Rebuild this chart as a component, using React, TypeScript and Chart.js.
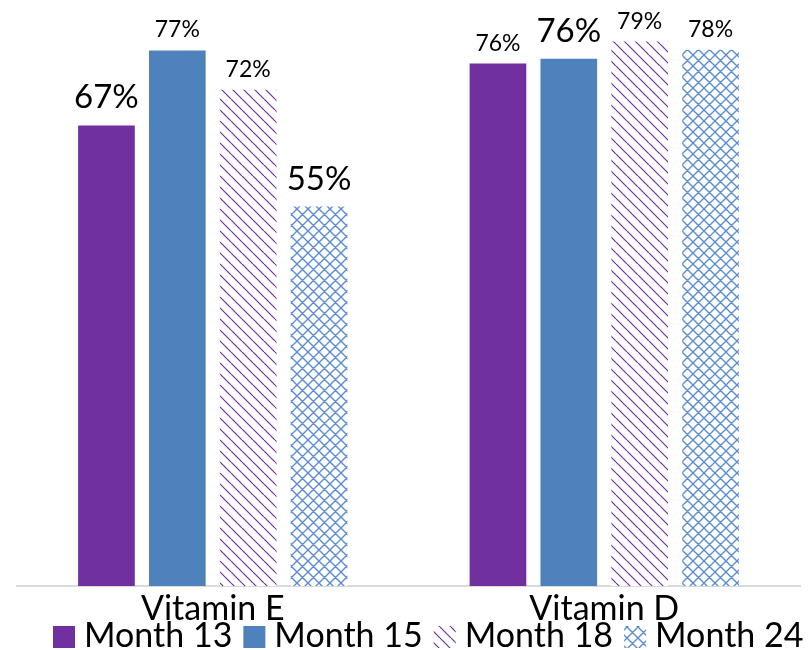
import React, { useEffect, useRef } from "react";
import { Chart, registerables } from "chart.js";

Chart.register(...registerables);

const categories = ["Vitamin E", "Vitamin D"];
const seriesNames = ["Month 13", "Month 15", "Month 18", "Month 24"];

const month13 = [67, 76];
const month15 = [77.9, 76.7];
const month18 = [72.2, 79.2];
const month24 = [55.2, 78];

const month13Labels = ["67%", "76%"];
const month15Labels = ["77%", "76%"];
const month18Labels = ["72%", "79%"];
const month24Labels = ["55%", "78%"];

const month13Large = [true, false];
const month15Large = [false, true];
const month18Large = [false, false];
const month24Large = [true, false];

const PURPLE = "#7030A0";
const BLUE = "#4F81BD";
const FONT = "Lato, 'Open Sans', sans-serif";

function makeHatch(ctx: CanvasRenderingContext2D, color: string, size: number, cross: boolean, lw: number) {
  const c = document.createElement("canvas");
  c.width = size;
  c.height = size;
  const g = c.getContext("2d")!;
  g.fillStyle = "#ffffff";
  g.fillRect(0, 0, size, size);
  g.strokeStyle = color;
  g.lineWidth = lw;
  g.beginPath();
  for (const o of [-size, 0, size]) {
    g.moveTo(o, 0);
    g.lineTo(o + size, size);
    if (cross) {
      g.moveTo(o + size, 0);
      g.lineTo(o, size);
    }
  }
  g.stroke();
  return ctx.createPattern(c, "repeat") as CanvasPattern;
}

export default function App() {
  const ref = useRef<HTMLCanvasElement | null>(null);

  useEffect(() => {
    document.body.style.margin = "0";
    const canvas = ref.current!;
    const ctx = canvas.getContext("2d")!;
    const hatch = makeHatch(ctx, PURPLE, 11, false, 1.2);
    const cross = makeHatch(ctx, "#5B8DD0", 11, true, 1.4);

    const labelSets = [month13Labels, month15Labels, month18Labels, month24Labels];
    const largeSets = [month13Large, month15Large, month18Large, month24Large];

    const dataLabels = {
      id: "dataLabels",
      afterDatasetsDraw(chart: any) {
        const c = chart.ctx;
        c.save();
        c.fillStyle = "#000";
        c.textAlign = "center";
        c.textBaseline = "alphabetic";
        chart.data.datasets.forEach((ds: any, di: number) => {
          const meta = chart.getDatasetMeta(di);
          meta.data.forEach((bar: any, i: number) => {
            const large = largeSets[di][i];
            c.font = `${large ? 33 : 23}px ${FONT}`;
            c.fillText(labelSets[di][i], bar.x, bar.y - (large ? 17 : 13));
          });
        });
        c.restore();
      },
    };

    const legendPlugin = {
      id: "customLegend",
      afterDraw(chart: any) {
        const c = chart.ctx;
        c.save();
        c.font = `34px ${FONT}`;
        c.textBaseline = "alphabetic";
        c.textAlign = "left";
        const box = 22;
        const gapText = 9;
        const gapItem = 11;
        const ds = chart.data.datasets;
        let x = chart.chartArea.left + 36;
        const boxTop = 626;
        const baseline = 647;
        ds.forEach((d: any) => {
          c.fillStyle = d.backgroundColor;
          c.fillRect(x, boxTop, box, box);
          x += box + gapText;
          c.fillStyle = "#000";
          c.fillText(d.label, x, baseline);
          x += c.measureText(d.label).width + gapItem;
        });
        c.restore();
      },
    };

    const chart = new Chart(canvas, {
      type: "bar",
      data: {
        labels: categories,
        datasets: [
          { label: seriesNames[0], data: month13, backgroundColor: PURPLE },
          { label: seriesNames[1], data: month15, backgroundColor: BLUE },
          { label: seriesNames[2], data: month18, backgroundColor: hatch as any },
          { label: seriesNames[3], data: month24, backgroundColor: cross as any },
        ],
      },
      options: {
        responsive: false,
        animation: false,
        layout: { padding: { left: 17, right: 12, top: 36, bottom: 0 } },
        datasets: { bar: { categoryPercentage: 0.724, barPercentage: 0.8 } } as any,
        plugins: {
          legend: { display: false },
          tooltip: { enabled: false },
        },
        scales: {
          x: {
            grid: { display: false, drawTicks: false },
            border: { display: true, color: "#D9D9D9", width: 2 },
            ticks: { color: "#000", font: { family: FONT, size: 34 }, padding: 3 },
            afterFit: (scale: any) => {
              scale.height = 64;
            },
          },
          y: { display: false, min: 0, max: 80 },
        },
      },
      plugins: [dataLabels, legendPlugin],
    });
    return () => chart.destroy();
  }, []);

  return <canvas ref={ref} width={812} height={650} />;
}
